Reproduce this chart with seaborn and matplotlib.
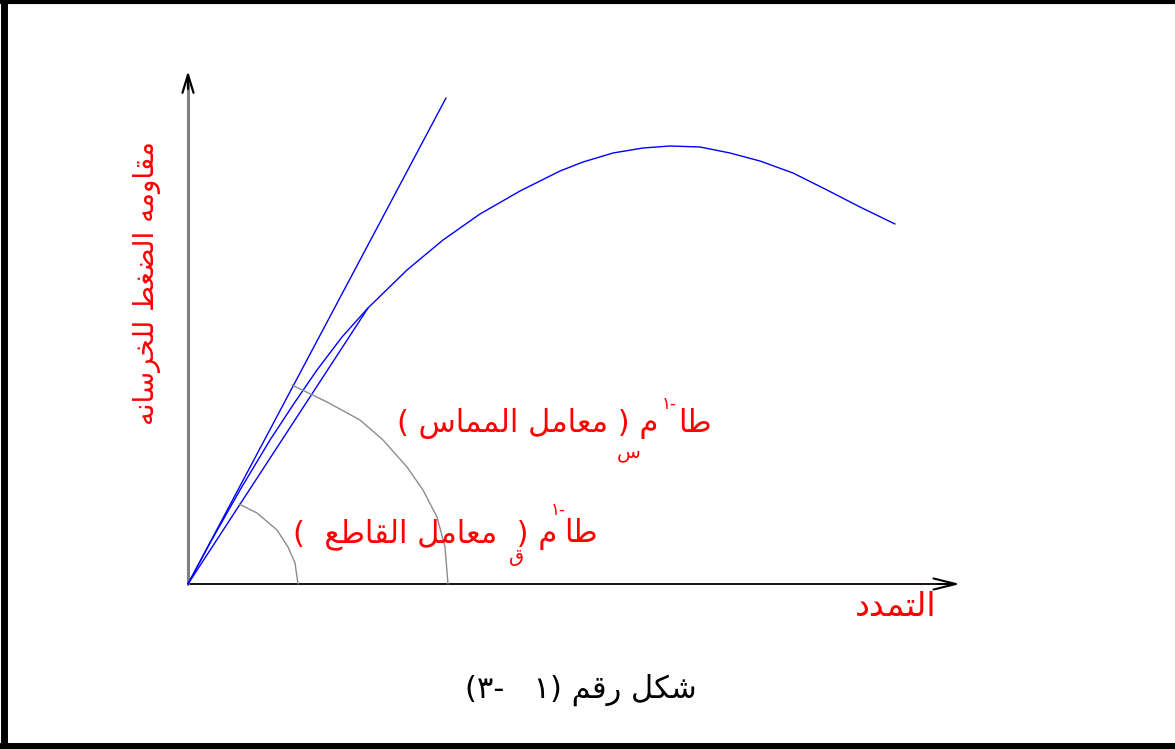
import numpy as np
import pandas as pd
import matplotlib
matplotlib.use("Agg")
import matplotlib.pyplot as plt
from matplotlib.lines import Line2D
import seaborn as sns

# stress-strain curve of concrete (arbitrary units)
strain = [0.0, 0.22, 0.52, 0.82, 1.07, 1.29, 1.54, 1.80, 2.19, 2.55, 2.92, 3.32, 3.72,
          3.95, 4.25, 4.55, 4.82, 5.12, 5.42, 5.72, 6.05, 6.39, 6.72, 7.07]
stress = [0.0, 0.41, 0.94, 1.44, 1.82, 2.14, 2.47, 2.76, 3.14, 3.44, 3.70, 3.93, 4.13,
          4.22, 4.31, 4.36, 4.38, 4.37, 4.31, 4.23, 4.11, 3.94, 3.77, 3.60]

# initial tangent line and secant line
tangent_x = [0.0, 2.58]
tangent_y = [0.0, 4.86]
secant_x = [0.0, 1.80]
secant_y = [0.0, 2.76]

# angle marks
big_arc_x = [1.04, 1.39, 1.72, 1.95, 2.19, 2.35, 2.49, 2.57, 2.60]
big_arc_y = [1.99, 1.82, 1.64, 1.44, 1.17, 0.94, 0.67, 0.37, 0.0]
small_arc_x = [0.51, 0.69, 0.89, 1.00, 1.07, 1.10]
small_arc_y = [0.80, 0.71, 0.54, 0.37, 0.21, 0.0]

ylabel_txt = "مقاومه الضغط للخرسانه"
xlabel_txt = "التمدد"
tan_txt = "طا"
m_txt = "م"
tangent_txt = "( معامل المماس )"
secant_txt = "(  معامل القاطع  )"
sub_tangent = "س"
sub_secant = "ق"
sup_txt = "-١"
caption_txt = "شكل رقم (١   -٣)"

# simple arabic shaping (presentation forms) -> visual order
# (isolated, final, initial, medial)
FORMS = {
    "ا": ("\uFE8D", "\uFE8E", None, None),
    "ت": ("\uFE95", "\uFE96", "\uFE97", "\uFE98"),
    "خ": ("\uFEA5", "\uFEA6", "\uFEA7", "\uFEA8"),
    "د": ("\uFEA9", "\uFEAA", None, None),
    "ر": ("\uFEAD", "\uFEAE", None, None),
    "س": ("\uFEB1", "\uFEB2", "\uFEB3", "\uFEB4"),
    "ش": ("\uFEB5", "\uFEB6", "\uFEB7", "\uFEB8"),
    "ض": ("\uFEBD", "\uFEBE", "\uFEBF", "\uFEC0"),
    "ط": ("\uFEC1", "\uFEC2", "\uFEC3", "\uFEC4"),
    "ع": ("\uFEC9", "\uFECA", "\uFECB", "\uFECC"),
    "غ": ("\uFECD", "\uFECE", "\uFECF", "\uFED0"),
    "ق": ("\uFED5", "\uFED6", "\uFED7", "\uFED8"),
    "ك": ("\uFED9", "\uFEDA", "\uFEDB", "\uFEDC"),
    "ل": ("\uFEDD", "\uFEDE", "\uFEDF", "\uFEE0"),
    "م": ("\uFEE1", "\uFEE2", "\uFEE3", "\uFEE4"),
    "ن": ("\uFEE5", "\uFEE6", "\uFEE7", "\uFEE8"),
    "ه": ("\uFEE9", "\uFEEA", "\uFEEB", "\uFEEC"),
    "و": ("\uFEED", "\uFEEE", None, None),
}
MIRROR = {"(": ")", ")": "("}


def shape(txt):
    out = []
    for i, ch in enumerate(txt):
        if ch not in FORMS:
            out.append(MIRROR.get(ch, ch))
            continue
        f = FORMS[ch]
        prev = txt[i - 1] if i > 0 else ""
        nxt = txt[i + 1] if i < len(txt) - 1 else ""
        jp = prev in FORMS and FORMS[prev][2] is not None
        jn = nxt in FORMS and f[2] is not None
        if jp and jn:
            out.append(f[3])
        elif jp:
            out.append(f[1])
        elif jn:
            out.append(f[2])
        else:
            out.append(f[0])
    return "".join(reversed(out))


sns.set_style("white")
plt.rcParams["font.family"] = ["DejaVu Sans"]

fig = plt.figure(figsize=(11.75, 7.49), dpi=100)
ax = fig.add_axes([0, 0, 1, 1])
ax.set_xlim(-1.88, 9.87)
ax.set_ylim(-1.65, 5.84)

# axes with arrows
ax.plot([0, 7.6], [0, 0], color="black", lw=1.3)
ax.annotate("", xy=(7.72, 0), xytext=(7.5, 0),
            arrowprops=dict(arrowstyle="->,head_length=0.8,head_width=0.2", color="black",
                            lw=1.5, shrinkA=0, shrinkB=0, mutation_scale=20))
ax.plot([0, 0], [0, 5.0], color="#808080", lw=2.2)
ax.annotate("", xy=(0, 5.13), xytext=(0, 4.95),
            arrowprops=dict(arrowstyle="->,head_length=0.65,head_width=0.2", color="black",
                            lw=1.6, shrinkA=0, shrinkB=0, mutation_scale=20))

curve = pd.DataFrame({"strain": strain, "stress": stress})
sns.lineplot(data=curve, x="strain", y="stress", color="blue", lw=1, sort=False,
             estimator=None, ax=ax)
sns.lineplot(x=tangent_x, y=tangent_y, color="blue", lw=1, sort=False, estimator=None, ax=ax)
sns.lineplot(x=secant_x, y=secant_y, color="blue", lw=1, sort=False, estimator=None, ax=ax)
sns.lineplot(x=big_arc_x, y=big_arc_y, color="#8c8c8c", lw=1, sort=False, estimator=None, ax=ax)
sns.lineplot(x=small_arc_x, y=small_arc_y, color="#8c8c8c", lw=1, sort=False, estimator=None, ax=ax)
ax.axis("off")

red = "#ff0000"
ax.text(-0.41, 3.01, shape(ylabel_txt), rotation=90, color=red, fontsize=20,
        ha="center", va="center")
ax.text(7.49, -0.22, shape(xlabel_txt), color=red, fontsize=24, ha="right", va="center")

# tangent modulus label
ax.text(5.24, 1.52, shape(tan_txt), color=red, fontsize=22, ha="right", va="baseline")
ax.text(4.70, 1.52, shape(m_txt + " " + tangent_txt), color=red, fontsize=22,
        ha="right", va="baseline")
ax.text(4.74, 1.75, sup_txt[::-1], color=red, fontsize=12, ha="left", va="baseline")
ax.text(4.41, 1.32, shape(sub_tangent), color=red, fontsize=14, ha="center", va="center")

# secant modulus label
ax.text(4.10, 0.42, shape(tan_txt), color=red, fontsize=22, ha="right", va="baseline")
ax.text(3.69, 0.42, shape(m_txt + " " + secant_txt), color=red, fontsize=22,
        ha="right", va="baseline")
ax.text(3.63, 0.69, sup_txt[::-1], color=red, fontsize=12, ha="left", va="baseline")
ax.text(3.29, 0.27, shape(sub_secant), color=red, fontsize=14, ha="center", va="center")

ax.text(3.93, -1.06, shape(caption_txt), color="black", fontsize=22, ha="center", va="center")

# page frame (left, top, bottom)
fig.add_artist(Line2D([0.003, 0.003], [0, 1], color="black", lw=5, transform=fig.transFigure))
fig.add_artist(Line2D([0, 1], [0.997, 0.997], color="black", lw=3, transform=fig.transFigure))
fig.add_artist(Line2D([0, 1], [0.004, 0.004], color="black", lw=5, transform=fig.transFigure))

fig.savefig("out.png", dpi=100, facecolor="white")
